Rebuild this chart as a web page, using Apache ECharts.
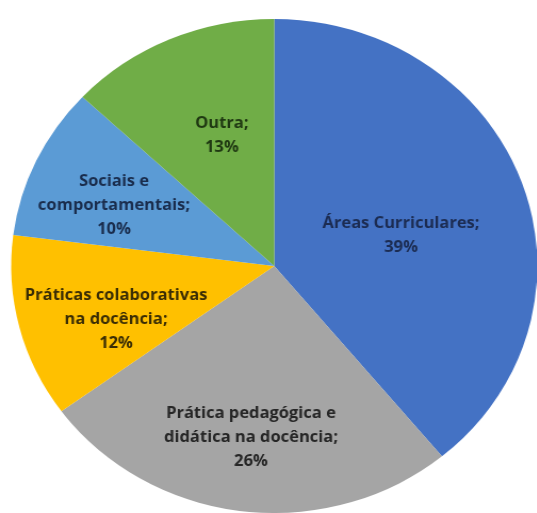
<!DOCTYPE html>
<html>
<head>
<meta charset="utf-8">
<script src="https://cdn.jsdelivr.net/npm/echarts@6/dist/echarts.min.js"></script>
<style>
  html, body { margin: 0; padding: 0; background: #ffffff; overflow: hidden; }
  /* the pie is drawn slightly wider than tall */
  #chart { width: 504px; height: 513px; transform: scaleX(1.065); transform-origin: 0 0; }
</style>
</head>
<body>
<div id="chart"></div>
<script>
// Áreas de formação (percentagens); line breaks as the labels wrap
const categories = [
  'Áreas Curriculares',
  'Prática pedagógica e\ndidática na docência',
  'Práticas colaborativas\nna docência',
  'Sociais e\ncomportamentais',
  'Outra'
];
const shares = [39, 26, 12, 10, 13];

// slice fills and label ink per slice
const sliceColors = ['#4472C4', '#A5A5A5', '#FFC000', '#5B9BD5', '#70AD47'];
const labelInk = ['#1c2c52', '#262626', '#3a2d05', '#1a2d4d', '#1f3812'];
// nudge of each label away from the default inside spot
const labelNudge = [[0, 12], [-6, 46], [-26, 22], [-36, -7], [1, -14]];

const chart = echarts.init(document.getElementById('chart'), null, { renderer: 'canvas' });

chart.setOption({
  backgroundColor: '#ffffff',
  animation: false,
  series: [{
    type: 'pie',
    center: [257.5, 266],
    radius: 247,
    startAngle: 90,
    clockwise: true,
    avoidLabelOverlap: false,
    itemStyle: { borderWidth: 0 },
    label: {
      show: true,
      position: 'inside',
      formatter: '{b};\n{c}%',
      fontFamily: '"Open Sans", Lato, sans-serif',
      fontWeight: 'bold',
      fontSize: 15.5,
      lineHeight: 24,
      align: 'center'
    },
    labelLine: { show: false },
    labelLayout: function (p) {
      const n = labelNudge[p.dataIndex];
      return { dx: n[0], dy: n[1] };
    },
    data: categories.map(function (name, i) {
      return {
        name: name,
        value: shares[i],
        itemStyle: { color: sliceColors[i] },
        label: { color: labelInk[i] }
      };
    })
  }]
});
</script>
</body>
</html>
